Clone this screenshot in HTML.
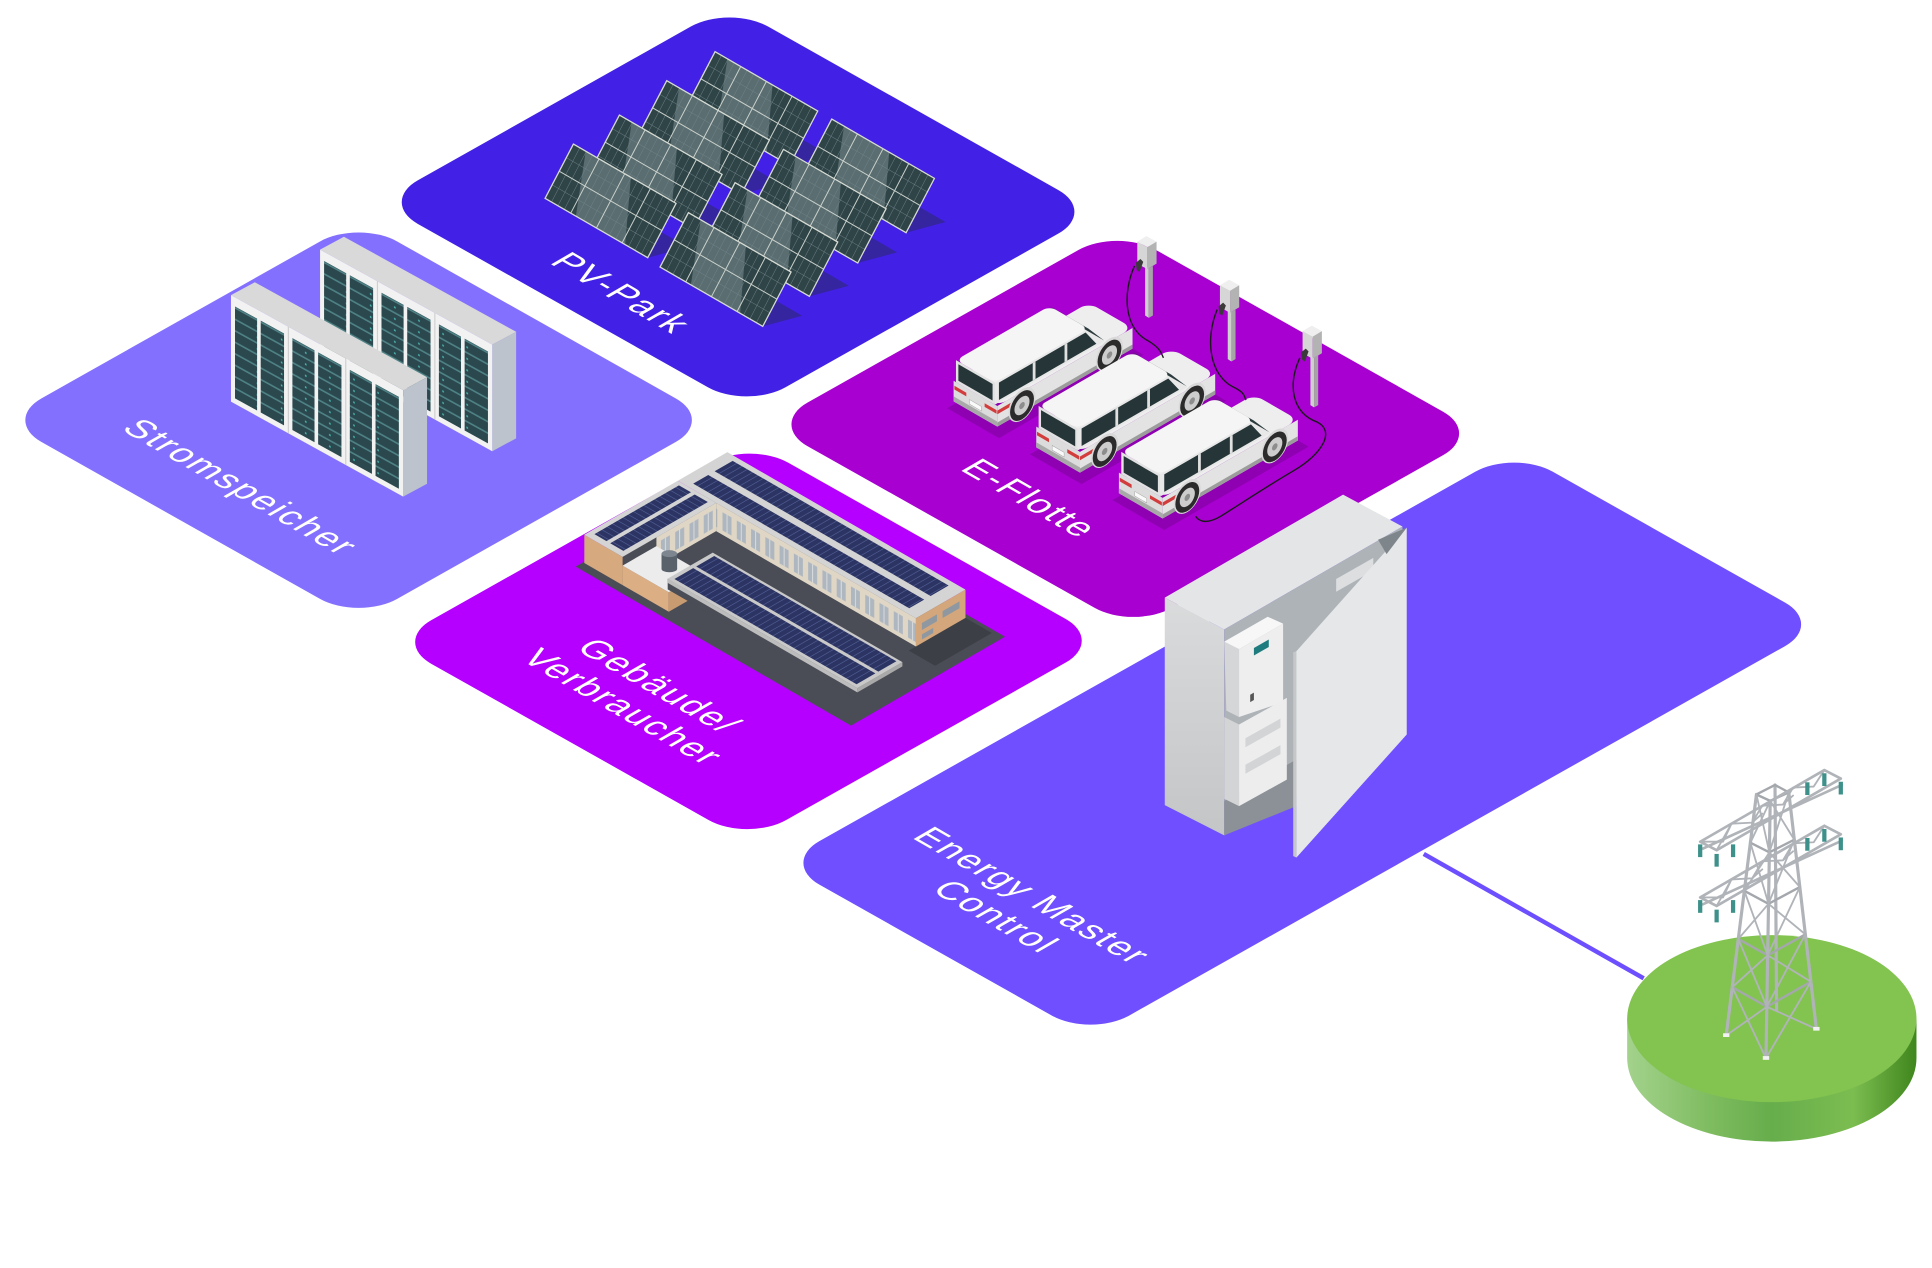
<!DOCTYPE html>
<html><head><meta charset="utf-8">
<style>
html,body{margin:0;padding:0;background:#fff;}
svg{display:block;}
</style></head><body>
<svg xmlns="http://www.w3.org/2000/svg" xmlns:xlink="http://www.w3.org/1999/xlink" width="1932" height="1268" viewBox="0 0 1568 1029.07">
<defs>
 <linearGradient id="gside" x1="0" y1="0" x2="1" y2="0">
  <stop offset="0" stop-color="#a3d28c"/>
  <stop offset="0.3" stop-color="#7dbb5e"/>
  <stop offset="0.5" stop-color="#66ad4c"/>
  <stop offset="0.78" stop-color="#7cbd50"/>
  <stop offset="1" stop-color="#3f861d"/>
 </linearGradient>
 <linearGradient id="cabL" x1="0" y1="0" x2="0" y2="1">
  <stop offset="0" stop-color="#dadbdc"/><stop offset="1" stop-color="#c3c5c7"/>
 </linearGradient>
 <pattern id="mod" width="60" height="25" patternUnits="userSpaceOnUse">
  <rect width="60" height="25" fill="#2a484d"/>
  <rect y="21" width="60" height="4" fill="#4f8286"/>
  <rect x="4" y="9" width="4" height="4" fill="#49b4b0"/>
 </pattern>
 <pattern id="pvRoof" width="14" height="200" patternUnits="userSpaceOnUse">
  <rect width="14" height="200" fill="#2c3463"/>
  <rect x="12.5" width="1.5" height="200" fill="#56639a"/>
 </pattern>
 <pattern id="pvRoofV" width="200" height="14" patternUnits="userSpaceOnUse">
  <rect width="200" height="14" fill="#2c3463"/>
  <rect y="12.5" width="200" height="1.5" fill="#56639a"/>
 </pattern>
 <pattern id="win" width="38" height="65" patternUnits="userSpaceOnUse">
  <rect width="38" height="65" fill="#e0d6c6"/>
  <rect x="8" y="10" width="24" height="42" fill="#aeb7bf"/>
  <rect x="19" y="10" width="2" height="42" fill="#e8e8e8"/>
 </pattern>
 <g id="pv">
  <rect width="1" height="1" fill="#2f4447"/>
  <polygon points="0.3,0 0.78,0 0.56,1 0.12,1" fill="#5a6d70"/>
  <path d="M0.0625,0V1M0.125,0V1M0.1875,0V1M0.3125,0V1M0.375,0V1M0.4375,0V1M0.5625,0V1M0.625,0V1M0.6875,0V1M0.8125,0V1M0.875,0V1M0.9375,0V1M0,0.25H1M0,0.75H1" stroke="#71858a" stroke-width="0.5" vector-effect="non-scaling-stroke" fill="none"/>
  <path d="M0.25,0V1M0.5,0V1M0.75,0V1M0,0.5H1" stroke="#c9d0cb" stroke-width="1" vector-effect="non-scaling-stroke" fill="none"/>
  <rect width="1" height="1" fill="none" stroke="#d6dbd4" stroke-width="1.3" vector-effect="non-scaling-stroke"/>
 </g>
 <g id="row">
  <polygon points="0,0 375,207 427,179 52,-28" fill="#d9d9d9"/>
  <polygon points="375,207 427,179 427,411 375,439" fill="#bcc3cc"/>
  <g transform="matrix(0.8755,0.4833,0,1,0,0)">
   <rect width="428.3" height="232" fill="#f2f2f2"/>
   <rect x="10" y="20" width="55" height="200" fill="url(#mod)"/>
   <rect x="74" y="20" width="58" height="200" fill="url(#mod)"/>
   <rect x="152.8" y="20" width="55" height="200" fill="url(#mod)"/>
   <rect x="216.8" y="20" width="58" height="200" fill="url(#mod)"/>
   <rect x="295.6" y="20" width="55" height="200" fill="url(#mod)"/>
   <rect x="359.6" y="20" width="58" height="200" fill="url(#mod)"/>
   <path d="M142.8,0V232M285.5,0V232" stroke="#d0d0d0" stroke-width="3"/>
  </g>
 </g>
 <g id="car">
  <polygon points="-13.9,0 98.7,65 413.1,-116.5 300.5,-181.5" fill="#000" opacity="0.14"/>
  <rect x="0" y="0" width="110" height="340" rx="22" transform="matrix(0.866,0.5,0.866,-0.5,0,-60)" fill="#eeeeee"/>
  <g transform="matrix(0.866,0.5,0,-1,0,0)">
   <rect x="0" y="15" width="110" height="45" fill="#dcdcdc"/>
   <rect x="0" y="15" width="110" height="11" fill="#a9a9a9"/>
   <rect x="2" y="42" width="30" height="8" fill="#d23c3c"/>
   <rect x="78" y="42" width="30" height="8" fill="#d23c3c"/>
   <rect x="40" y="29" width="30" height="10" fill="#fafafa" stroke="#999" stroke-width="1"/>
  </g>
  <g transform="matrix(0.866,-0.5,0,-1,95.26,55)">
   <rect x="0" y="15" width="340" height="45" fill="#e3e3e3"/>
   <rect x="0" y="15" width="340" height="9" fill="#9c9c9c"/>
   <rect x="0" y="42" width="40" height="8" fill="#d23c3c"/>
   <circle cx="62" cy="32" r="34" fill="#d9d9d9"/>
   <circle cx="62" cy="30" r="30" fill="#2b2b2b"/>
   <circle cx="62" cy="30" r="19" fill="#cdcdcd"/>
   <circle cx="62" cy="30" r="7" fill="#8d8d8d"/>
   <circle cx="282" cy="32" r="34" fill="#d9d9d9"/>
   <circle cx="282" cy="30" r="30" fill="#2b2b2b"/>
   <circle cx="282" cy="30" r="19" fill="#cdcdcd"/>
   <circle cx="282" cy="30" r="7" fill="#8d8d8d"/>
  </g>
  <g transform="matrix(0.866,0.5,0,-1,0,0)">
   <rect x="6" y="60" width="98" height="48" fill="#e2e2e2"/>
   <rect x="12" y="66" width="86" height="36" fill="#263638"/>
  </g>
  <g transform="matrix(0.866,-0.5,0,-1,90.06,52)">
   <polygon points="0,60 275,60 235,108 0,108" fill="#e8e8e8"/>
   <polygon points="10,65 255,65 228,103 10,103" fill="#263638"/>
   <rect x="95" y="65" width="7" height="38" fill="#e0e0e0"/>
   <rect x="175" y="65" width="7" height="38" fill="#e0e0e0"/>
  </g>
  <polygon points="208.7,-222.5 293.6,-173.5 328.2,-147.5 243.3,-196.5" fill="#2b3b3d"/>
  <rect x="6" y="0" width="98" height="235" rx="16" transform="matrix(0.866,0.5,0.866,-0.5,0,-108)" fill="#f5f5f5"/>
 </g>
 <g id="chg">
  <polygon points="20,65 28,70 28,178 20,173" fill="#cfcfcf"/>
  <polygon points="28,70 37,65 37,173 28,178" fill="#a5a5a5"/>
  <polygon points="3,12 23,0 45,12 25,24" fill="#efefef"/>
  <polygon points="3,12 25,24 25,72 3,60" fill="#d6d6d6"/>
  <polygon points="25,24 45,12 45,60 25,72" fill="#b3b3b3"/>
  <path d="M0,58 L10,50 L16,56 L8,78 L2,74 Z" fill="#3a3a3a"/>
 </g>
</defs>

<!-- platforms -->
<rect width="332" height="332" rx="36" transform="matrix(0.87,-0.49,0.87,0.49,2.2,341)" fill="#8470FF"/>
<rect width="326.8" height="342.9" rx="36" transform="matrix(0.87,-0.49,0.87,0.49,307.7,164)" fill="#4220E6"/>
<rect width="325" height="340" rx="36" transform="matrix(0.87,-0.49,0.87,0.49,624,344.4)" fill="#A700D0"/>
<rect width="333" height="331" rx="36" transform="matrix(0.87,-0.49,0.87,0.49,318.6,521)" fill="#B500FF"/>
<rect width="684" height="288.9" rx="36" transform="matrix(0.87,-0.49,0.87,0.49,633.7,700.3)" fill="#6F4FFF"/>

<!-- connector -->
<line x1="1155.5" y1="693" x2="1334" y2="794" stroke="#6E4FFF" stroke-width="3.6"/>

<!-- green disc -->
<path d="M1320.6,826.7 V858.7 A117.4,67.8 0 0 0 1555.4,858.7 V826.7 Z" fill="url(#gside)"/>
<ellipse cx="1438" cy="826.7" rx="117.4" ry="67.8" fill="#83C350"/>

<!-- PV park -->
<g transform="translate(430.2,32.47) scale(0.27054)">
 <g fill="#35259F">
  <polygon points="470,198 778,376 896,344 588,166"/>
  <polygon points="820,400 1128,578 1246,546 938,368"/>
  <polygon points="325,285 633,463 751,431 443,253"/>
  <polygon points="675,491 983,669 1101,637 793,459"/>
  <polygon points="183,388 491,566 609,534 301,356"/>
  <polygon points="530,591 838,769 956,737 648,559"/>
  <polygon points="45,475 353,653 471,621 163,443"/>
  <polygon points="390,681 698,859 816,827 508,649"/>
 </g>
 <use xlink:href="#pv" href="#pv" transform="matrix(308,178,85,-163,470,198)"/>
 <use xlink:href="#pv" href="#pv" transform="matrix(308,178,85,-163,820,400)"/>
 <use xlink:href="#pv" href="#pv" transform="matrix(308,178,85,-163,325,285)"/>
 <use xlink:href="#pv" href="#pv" transform="matrix(308,178,85,-163,675,491)"/>
 <use xlink:href="#pv" href="#pv" transform="matrix(308,178,85,-163,183,388)"/>
 <use xlink:href="#pv" href="#pv" transform="matrix(308,178,85,-163,530,591)"/>
 <use xlink:href="#pv" href="#pv" transform="matrix(308,178,85,-163,45,475)"/>
 <use xlink:href="#pv" href="#pv" transform="matrix(308,178,85,-163,390,681)"/>
</g>

<!-- racks -->
<g transform="translate(0,162.32) scale(0.37268)">
 <use xlink:href="#row" href="#row" x="697" y="108"/>
 <use xlink:href="#row" href="#row" x="503" y="207"/>
</g>

<!-- building -->
<g transform="translate(324.65,357.11) scale(0.35198)">
 <rect x="0" y="0" width="733" height="410" transform="matrix(0.866,0.5,0.866,-0.5,405,292)" fill="#4a4d55"/>
 <rect x="637" y="250" width="70" height="151" transform="matrix(0.866,0.5,0.866,-0.5,405,292)" fill="#3c3f46"/>
 <g transform="matrix(0.866,0.5,0.866,-0.5,405,227)">
  <rect x="3" y="269" width="634" height="132" fill="#d4d4d4"/>
  <rect x="30" y="283" width="575" height="40" fill="url(#pvRoof)"/>
  <rect x="30" y="340" width="575" height="48" fill="url(#pvRoof)"/>
 </g>
 <g transform="matrix(0.866,0.5,0,-1,637.95,157.5)">
  <rect x="105" y="0" width="532" height="65" fill="url(#win)"/>
 </g>
 <g transform="matrix(0.866,-0.5,0,-1,956.64,610.5)">
  <rect x="269" y="0" width="132" height="65" fill="#d3a67b"/>
  <rect x="285" y="30" width="40" height="16" fill="#8f98a0"/>
  <rect x="340" y="30" width="45" height="16" fill="#8f98a0"/>
  <rect x="285" y="8" width="30" height="12" fill="#8f98a0"/>
 </g>
 <g transform="matrix(0.866,-0.5,0,-1,495.93,344.5)">
  <rect x="110" y="0" width="159" height="65" fill="url(#win)"/>
 </g>
 <g transform="matrix(0.866,0.5,0,-1,422.32,282)">
  <rect x="3" y="0" width="102" height="65" fill="#d6a97e"/>
 </g>
 <g transform="matrix(0.866,0.5,0.866,-0.5,405,227)">
  <rect x="3" y="20" width="102" height="249" fill="#d4d4d4"/>
  <rect x="15" y="35" width="32" height="225" fill="url(#pvRoofV)"/>
  <rect x="57" y="35" width="35" height="225" fill="url(#pvRoofV)"/>
 </g>
 <g transform="matrix(0.866,0.5,0,-1,422.32,282)">
  <rect x="105" y="0" width="123" height="45" fill="#dcae84"/>
 </g>
 <g transform="matrix(0.866,-0.5,0,-1,602.45,406)">
  <rect x="20" y="0" width="90" height="45" fill="#c99b70"/>
 </g>
 <rect x="105" y="20" width="123" height="90" transform="matrix(0.866,0.5,0.866,-0.5,405,247)" fill="#ececec"/>
 <ellipse cx="621" cy="297" rx="18" ry="8" fill="#59626b"/>
 <rect x="603" y="262" width="36" height="35" fill="#59626b"/>
 <ellipse cx="621" cy="262" rx="18" ry="8" fill="#7d868f"/>
 <g transform="matrix(0.866,0.5,0,-1,465.62,257)">
  <rect x="175" y="0" width="505" height="25" fill="#4a4d55"/>
  <rect x="175" y="15" width="505" height="10" fill="#bdbdbd"/>
 </g>
 <g transform="matrix(0.866,-0.5,0,-1,993.9,632)">
  <rect x="70" y="15" width="120" height="10" fill="#a9a9a9"/>
 </g>
 <g transform="matrix(0.866,0.5,0.866,-0.5,405,267)">
  <rect x="175" y="70" width="505" height="120" fill="#c9c9c9"/>
  <rect x="185" y="78" width="485" height="50" fill="url(#pvRoof)"/>
  <rect x="185" y="136" width="485" height="48" fill="url(#pvRoof)"/>
 </g>
</g>

<!-- E-Flotte -->
<g transform="translate(633.06,178.56) scale(0.37268)">
 <use xlink:href="#chg" href="#chg" x="775" y="35"/>
 <use xlink:href="#chg" href="#chg" x="955" y="130"/>
 <use xlink:href="#chg" href="#chg" x="1135" y="230"/>
 <use xlink:href="#car" href="#car" x="378" y="410"/>
 <use xlink:href="#car" href="#car" x="558" y="510"/>
 <use xlink:href="#car" href="#car" x="738" y="610"/>
 <g fill="none" stroke="#1a1a1a" stroke-width="3">
  <path d="M772,100 C745,160 750,235 800,262 C830,280 830,290 835,300"/>
  <path d="M952,195 C925,260 935,340 990,365 C1015,378 1010,385 1015,392"/>
  <path d="M1132,300 C1105,360 1115,420 1170,440 C1210,460 1180,510 1120,545 C1060,580 1000,620 960,645 C935,660 915,660 905,645"/>
 </g>
</g>

<!-- cabinet + pylon -->
<g transform="translate(892.78,357.11) scale(0.43066)">
 <polygon points="122,297 234,357 234,745 122,688" fill="url(#cabL)"/>
 <polygon points="122,297 458,103 570,163 234,357" fill="#e3e5e6"/>
 <polygon points="234,357 570,163 570,555 234,745" fill="#aeb3b8"/>
 <polygon points="445,262 515,222 515,246 445,286" fill="#dcdee0"/>
 <polygon points="234,680 370,602 370,690 234,745" fill="#8b9197"/>
 <polygon points="234,380 262,394 262,522 238,510" fill="#d5d6d7"/>
 <polygon points="234,380 316,333 345,346 262,394" fill="#f7f7f7"/>
 <polygon points="262,394 345,346 345,494 262,522" fill="#eeeeee"/>
 <polygon points="290,392 318,376 318,390 290,406" fill="#1f7c7e"/>
 <polygon points="283,480 290,476 290,490 283,494" fill="#555"/>
 <polygon points="234,522 262,536 262,690 234,676" fill="#d3d4d5"/>
 <polygon points="262,536 352,486 352,640 262,690" fill="#ededed"/>
 <polygon points="274,562 340,525 340,542 274,579" fill="#d2d4d6"/>
 <polygon points="274,612 340,575 340,592 274,629" fill="#d2d4d6"/>
 <polygon points="364,400 370,398 370,787 364,784" fill="#c5c7c9"/>
 <polygon points="370,398 578,165 578,555 370,787" fill="#e6e7e8"/>
 <polygon points="524,188 578,165 540,215" fill="#7e858b"/>

 <g stroke="#b0b4b9" stroke-width="6" fill="none" stroke-linecap="round" stroke-linejoin="round">
  <path d="M1180,1122L1237,668 M1255,1165L1263,680 M1350,1110L1298,664 M1275,1075L1272,650"/>
  <path stroke="#a4a8ad" stroke-width="4.5" d="M1191.4,1031.2 L1256.6,1068 L1339.6,1020.8 M1202.8,940.4 L1258.2,971 L1329.2,931.6 M1214.2,849.6 L1259.8,874 L1318.8,842.4 M1225.6,758.8 L1261.4,777 L1308.4,753.2 M1237,668 L1263,680 L1298,664 L1272,650 Z"/>
  <path stroke-width="3.5" d="M1180,1122L1256.6,1068 M1255,1165L1191.4,1031.2 M1255,1165L1339.6,1020.8 M1350,1110L1256.6,1068
   M1191.4,1031.2L1258.2,971 M1256.6,1068L1202.8,940.4 M1256.6,1068L1329.2,931.6 M1339.6,1020.8L1258.2,971
   M1202.8,940.4L1259.8,874 M1258.2,971L1214.2,849.6 M1258.2,971L1318.8,842.4 M1329.2,931.6L1259.8,874
   M1214.2,849.6L1261.4,777 M1259.8,874L1225.6,758.8 M1259.8,874L1308.4,753.2 M1318.8,842.4L1261.4,777
   M1225.6,758.8L1263,680 M1261.4,777L1237,668 M1261.4,777L1298,664 M1308.4,753.2L1263,680"/>
  <path stroke-width="5" d="M1131,757 L1365,622 M1162,773 L1396,638 M1131,757 L1162,773 M1365,622 L1396,638 M1136,770 L1398,650"/>
  <path stroke-width="3.5" d="M1131,757 L1174,757 L1190,723 L1229,721 L1248,689 L1287,687 L1306,655 L1345,653 L1365,622 M1162,773 L1190,723 M1229,721 L1248,704 M1287,687 L1306,670"/>
  <path stroke-width="5" d="M1131,862 L1365,727 M1162,878 L1396,743 M1131,862 L1162,878 M1365,727 L1396,743 M1136,875 L1398,755"/>
  <path stroke-width="3.5" d="M1131,862 L1174,862 L1190,828 L1229,826 L1248,794 L1287,792 L1306,760 L1345,758 L1365,727 M1162,878 L1190,828 M1229,826 L1248,809 M1287,792 L1306,775"/>
 </g>
 <g fill="#3e918a">
  <rect x="1127" y="762" width="8" height="24"/><rect x="1158" y="780" width="8" height="24"/><rect x="1189" y="762" width="8" height="24"/>
  <rect x="1329" y="645" width="8" height="24"/><rect x="1361" y="628" width="8" height="24"/><rect x="1392" y="644" width="8" height="24"/>
  <rect x="1127" y="867" width="8" height="24"/><rect x="1158" y="885" width="8" height="24"/><rect x="1189" y="867" width="8" height="24"/>
  <rect x="1329" y="750" width="8" height="24"/><rect x="1361" y="733" width="8" height="24"/><rect x="1392" y="749" width="8" height="24"/>
 </g>
 <g fill="#f2f2f2">
  <rect x="1174" y="1118" width="12" height="7"/><rect x="1249" y="1161" width="12" height="7"/><rect x="1344" y="1106" width="12" height="7"/>
 </g>
</g>

<!-- labels -->
<g font-family="'Liberation Sans', Arial, sans-serif" font-size="29" fill="#ffffff" letter-spacing="1.5" text-anchor="middle">
 <text transform="matrix(0.866,0.5,-0.866,0.5,495.8,242.5)">PV-Park</text>
 <text transform="matrix(0.866,0.5,-0.866,0.5,187,400)">Stromspeicher</text>
 <text transform="matrix(0.866,0.5,-0.866,0.5,827.5,409.3)">E-Flotte</text>
 <text transform="matrix(0.866,0.5,-0.866,0.5,526.7,561.5)"><tspan x="0" y="0">Gebäude/</tspan><tspan x="0" y="34">Verbraucher</tspan></text>
 <text transform="matrix(0.866,0.5,-0.866,0.5,829.5,731.7)"><tspan x="0" y="0">Energy Master</tspan><tspan x="0" y="34">Control</tspan></text>
</g>
</svg>
</body></html>
